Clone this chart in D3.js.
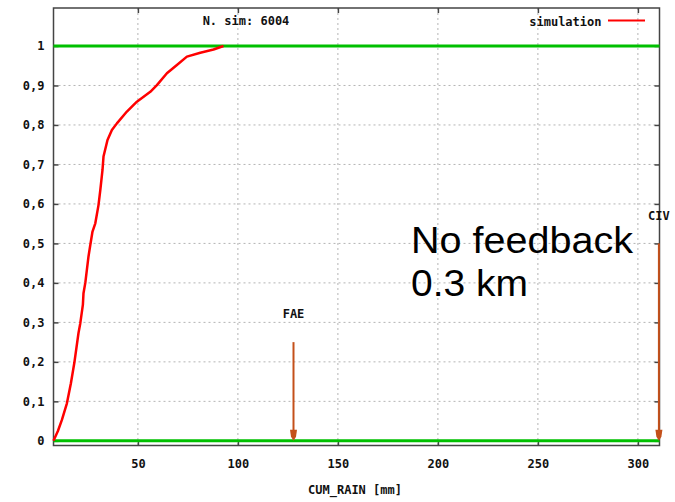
<!DOCTYPE html>
<html>
<head>
<meta charset="utf-8">
<script src="https://cdn.jsdelivr.net/npm/d3@7"></script>
<style>
  html, body { margin: 0; padding: 0; background: #fff; }
  svg { display: block; }
  .mono { font-family: "DejaVu Sans Mono", "Liberation Mono", monospace; font-size: 12px; font-weight: bold; fill: #111; }
</style>
</head>
<body>
<svg id="chart" width="675" height="502"></svg>
<script>
// Cumulative distribution of simulated rainfall (CUM_RAIN, mm)
const rainMm = [7.8, 10, 12, 14.5, 16.5, 18.2, 20.3, 21.2, 22.5, 22.8, 23.7, 25.3, 26.2, 27.3, 28.7, 30.3,
  31.2, 32.3, 32.8, 34.8, 37, 39.5, 44.5, 49.5, 56.2, 59.5, 64.5, 69.5, 74.5, 81.2, 87.8, 92.8];
const cumProb = [0, 0.025, 0.053, 0.095, 0.146, 0.197, 0.273, 0.298, 0.345, 0.374, 0.4, 0.467, 0.496, 0.53, 0.551, 0.597,
  0.635, 0.686, 0.72, 0.762, 0.787, 0.804, 0.834, 0.859, 0.884, 0.901, 0.931, 0.952, 0.973, 0.983, 0.991, 1.0];

// Observed references drawn as vertical arrows
const refLabels = ["FAE", "CIV"];
const refRain = [127.8, 310.5];
const refTop = [0.25, 0.5];

// Horizontal bounds of the probability (0 and 1)
const boundLevels = [0, 1];

// Axis ticks
const xTicks = [50, 100, 150, 200, 250, 300];
const yTicks = [0, 0.1, 0.2, 0.3, 0.4, 0.5, 0.6, 0.7, 0.8, 0.9, 1];
const yTickLabels = ["0", "0,1", "0,2", "0,3", "0,4", "0,5", "0,6", "0,7", "0,8", "0,9", "1"];

const titleText = "N. sim: 6004";
const seriesName = "simulation";
const xTitle = "CUM_RAIN [mm]";
const noteLines = ["No feedback", "0.3 km"];

const svg = d3.select("#chart");
const plotL = 53.5, plotR = 659.5, plotT = 8, plotB = 445.5;

const x = d3.scaleLinear().domain([7.8, 310.8]).range([plotL, plotR]);
const y = d3.scaleLinear().domain([-0.0118, 1.0962]).range([plotB, plotT]);

const red = "#ff0000", green = "#00c000", arrowCol = "#c4501a", frameCol = "#444";

// Dotted grid
const grid = svg.append("g").attr("stroke", "#b4b4b4").attr("stroke-width", 1).attr("stroke-dasharray", "2,3");
grid.selectAll("line.v").data(xTicks).join("line").attr("class", "v")
  .attr("x1", d => x(d)).attr("x2", d => x(d)).attr("y1", plotT).attr("y2", plotB);
grid.selectAll("line.h").data(yTicks.filter(d => d > 0 && d < 1)).join("line").attr("class", "h")
  .attr("x1", plotL).attr("x2", plotR).attr("y1", d => y(d)).attr("y2", d => y(d));

// Axes with inward ticks
const yAxisL = d3.axisLeft(y).tickValues(yTicks).tickSize(-5).tickPadding(9)
  .tickFormat((d, i) => yTickLabels[i]);
const yAxisR = d3.axisRight(y).tickValues(yTicks).tickSize(-5).tickFormat("");
const xAxisB = d3.axisBottom(x).tickValues(xTicks).tickSize(-4).tickPadding(14);
const xAxisT = d3.axisTop(x).tickValues(xTicks).tickSize(-5).tickFormat("");

function styleAxis(g) {
  g.select(".domain").remove();
  g.selectAll(".tick line").attr("stroke", frameCol).attr("stroke-width", 1.5);
  g.selectAll(".tick text").attr("class", "mono").attr("fill", "#111");
}
svg.append("g").attr("transform", `translate(${plotL},0)`).call(yAxisL).call(styleAxis);
svg.append("g").attr("transform", `translate(${plotR},0)`).call(yAxisR).call(styleAxis);
svg.append("g").attr("transform", `translate(0,${plotB})`).call(xAxisB).call(styleAxis);
svg.append("g").attr("transform", `translate(0,${plotT})`).call(xAxisT).call(styleAxis);
svg.selectAll(".tick text").style("font-family", "'DejaVu Sans Mono', monospace").style("font-size", "12px").style("font-weight", "bold");

// Frame
svg.append("rect").attr("x", plotL).attr("y", plotT).attr("width", plotR - plotL).attr("height", plotB - plotT)
  .attr("fill", "none").attr("stroke", frameCol).attr("stroke-width", 1.5);

// Probability bounds
svg.selectAll("line.bound").data(boundLevels).join("line").attr("class", "bound")
  .attr("x1", plotL).attr("x2", plotR).attr("y1", d => y(d)).attr("y2", d => y(d))
  .attr("stroke", green).attr("stroke-width", 3);

// Simulated CDF
const line = d3.line().x((d, i) => x(rainMm[i])).y(d => y(d));
svg.append("path").datum(cumProb).attr("d", line)
  .attr("fill", "none").attr("stroke", red).attr("stroke-width", 2.5).attr("stroke-linejoin", "round");

// Reference arrows
refRain.forEach((r, i) => {
  const ax = x(r), y0 = y(refTop[i]), y1 = y(0);
  svg.append("line").attr("x1", ax).attr("x2", ax).attr("y1", y0).attr("y2", y1 - 6)
    .attr("stroke", arrowCol).attr("stroke-width", 2);
  svg.append("path").attr("d", `M${ax - 3.5},${y1 - 11} L${ax + 3.5},${y1 - 11} L${ax + 2.5},${y1 - 4} L${ax},${y1} L${ax - 2.5},${y1 - 4} Z`)
    .attr("fill", arrowCol);
  svg.append("text").attr("class", "mono").attr("x", ax).attr("y", y(refTop[i] + 0.07))
    .attr("text-anchor", "middle").attr("dominant-baseline", "central").text(refLabels[i]);
});

// Title and legend
svg.append("text").attr("class", "mono").attr("x", 246).attr("y", 21)
  .attr("text-anchor", "middle").attr("dominant-baseline", "central").text(titleText);
svg.append("text").attr("class", "mono").attr("x", 601.5).attr("y", 21.5)
  .attr("text-anchor", "end").attr("dominant-baseline", "central").text(seriesName);
svg.append("line").attr("x1", 608).attr("x2", 645).attr("y1", 20.5).attr("y2", 20.5)
  .attr("stroke", red).attr("stroke-width", 2);

// X axis title
svg.append("text").attr("class", "mono").attr("x", 355).attr("y", 489.5)
  .attr("text-anchor", "middle").attr("dominant-baseline", "central").text(xTitle);

// Annotation
const note = svg.append("text").attr("font-family", "'Liberation Sans', Arial, sans-serif")
  .attr("font-size", 37).attr("fill", "#000");
note.append("tspan").attr("x", 411).attr("y", 253).attr("textLength", 222)
  .attr("lengthAdjust", "spacingAndGlyphs").text(noteLines[0]);
note.append("tspan").attr("x", 411).attr("y", 295.5).attr("textLength", 117)
  .attr("lengthAdjust", "spacingAndGlyphs").text(noteLines[1]);
</script>
</body>
</html>
